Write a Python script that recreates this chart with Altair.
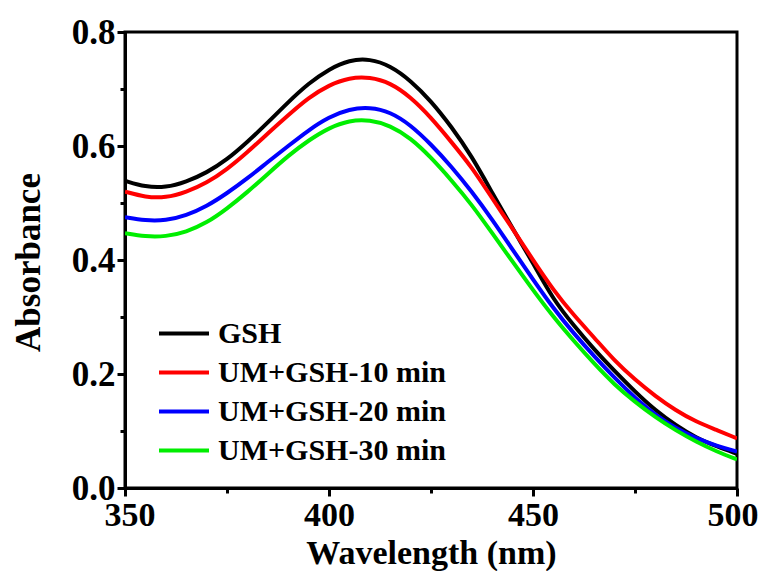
import altair as alt
import pandas as pd

wavelength = [350, 355, 360, 365, 370, 375, 380, 385, 390, 395, 400, 405, 410, 415, 420,
              425, 430, 435, 440, 445, 450, 455, 460, 465, 470, 475, 480, 485, 490, 495, 500]

gsh = [0.539, 0.528, 0.527, 0.537, 0.553, 0.576, 0.607, 0.641, 0.677, 0.710, 0.735, 0.751,
       0.753, 0.741, 0.715, 0.679, 0.634, 0.582, 0.518, 0.455, 0.395, 0.330, 0.285, 0.243,
       0.205, 0.169, 0.136, 0.110, 0.088, 0.073, 0.060]
um10 = [0.520, 0.510, 0.509, 0.519, 0.535, 0.559, 0.589, 0.622, 0.654, 0.685, 0.707, 0.720,
        0.721, 0.711, 0.686, 0.650, 0.607, 0.563, 0.508, 0.455, 0.400, 0.347, 0.303, 0.264,
        0.223, 0.190, 0.161, 0.136, 0.116, 0.102, 0.087]
um20 = [0.475, 0.469, 0.469, 0.478, 0.494, 0.517, 0.543, 0.572, 0.600, 0.628, 0.651, 0.665,
        0.668, 0.660, 0.637, 0.603, 0.564, 0.520, 0.471, 0.418, 0.366, 0.315, 0.271, 0.231,
        0.193, 0.158, 0.128, 0.105, 0.087, 0.074, 0.064]
um30 = [0.447, 0.441, 0.441, 0.449, 0.465, 0.490, 0.519, 0.551, 0.583, 0.610, 0.632, 0.645,
        0.646, 0.636, 0.614, 0.580, 0.540, 0.497, 0.447, 0.397, 0.347, 0.300, 0.258, 0.218,
        0.181, 0.151, 0.124, 0.101, 0.081, 0.064, 0.050]

series_names = ["GSH", "UM+GSH-10 min", "UM+GSH-20 min", "UM+GSH-30 min"]
series_colors = ["#000000", "#ff0000", "#0000ff", "#00ee00"]
x_ticks = [350, 375, 400, 425, 450, 475, 500]
y_ticks = [0.0, 0.1, 0.2, 0.3, 0.4, 0.5, 0.6, 0.7, 0.8]

rows = []
for name, vals in zip(series_names, [gsh, um10, um20, um30]):
    for w, v in zip(wavelength, vals):
        rows.append({"Wavelength": w, "Absorbance": v, "Series": name})
df = pd.DataFrame(rows)

FONT = "Liberation Serif"

x_axis = alt.Axis(
    values=x_ticks,
    labelExpr="datum.value % 50 === 0 ? datum.label : ''",
    tickSize={"condition": {"test": "datum.value % 50 === 0", "value": 8}, "value": 5},
    tickWidth=3, tickColor="black", domainWidth=3, domainColor="black",
    grid=False, labelFont=FONT, labelFontWeight="bold", labelFontSize=34,
    labelColor="black", labelPadding=2, labelFlush=True, labelFlushOffset=21,
    labelOverlap=False,
    title="Wavelength (nm)", titleFont=FONT, titleFontWeight="bold", titleFontSize=34,
    titleColor="black", titleX=306, titleY=75, titleBaseline="alphabetic",
)
y_axis = alt.Axis(
    values=y_ticks, format=".1f",
    labelExpr="round(datum.value * 10) % 2 === 0 ? datum.label : ''",
    tickSize={"condition": {"test": "round(datum.value * 10) % 2 === 0", "value": 8}, "value": 5},
    tickWidth=3, tickColor="black", domainWidth=3, domainColor="black",
    grid=False, labelFont=FONT, labelFontWeight="bold", labelFontSize=35,
    labelColor="black", labelPadding=2, labelFlush=False, labelOverlap=False,
    title="Absorbance", titleFont=FONT, titleFontWeight="bold", titleFontSize=35,
    titleColor="black", titleAngle=-90, titleX=-97, titleY=230,
    titleBaseline="middle", titleAlign="center",
)

chart = alt.Chart(df).mark_line(strokeWidth=4, interpolate="basis", clip=True).encode(
    x=alt.X("Wavelength:Q", scale=alt.Scale(domain=[350, 500], nice=False, zero=False), axis=x_axis),
    y=alt.Y("Absorbance:Q", scale=alt.Scale(domain=[0, 0.8], nice=False), axis=y_axis),
    color=alt.Color(
        "Series:N",
        scale=alt.Scale(domain=series_names, range=series_colors),
        sort=series_names,
        legend=alt.Legend(
            title=None, orient="none", legendX=32, legendY=282,
            symbolType="stroke", symbolSize=2500, symbolStrokeWidth=4,
            labelFont=FONT, labelFontWeight="bold", labelFontSize=30, labelColor="black",
            labelOffset=7, labelLimit=500, clipHeight=39, rowPadding=0, padding=0,
        ),
    ),
    order=alt.Order("Wavelength:Q"),
).properties(
    width=612, height=456,
    autosize=alt.AutoSizeParams(type="none"),
    padding={"left": 117, "top": 24, "right": 22, "bottom": 83},
).configure_view(stroke="black", strokeWidth=3)

chart.save("out.html", embed_options={"renderer": "svg", "actions": False})
